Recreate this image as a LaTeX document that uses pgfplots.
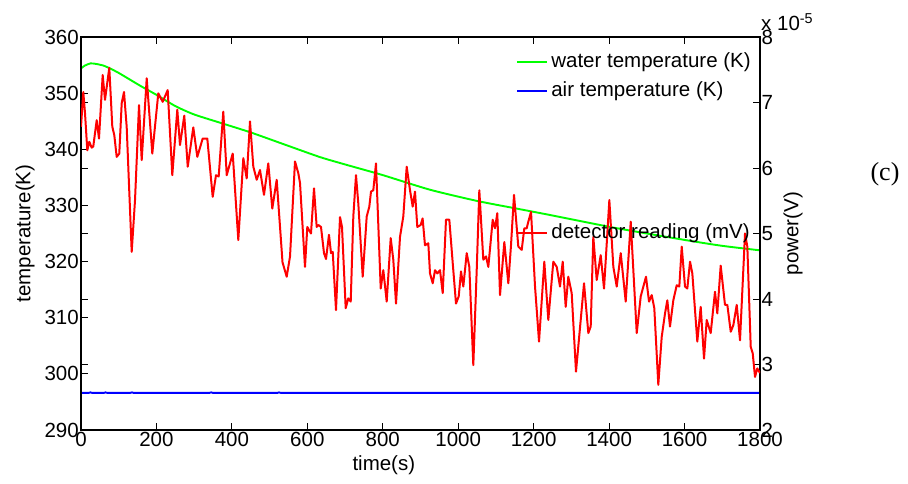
\documentclass[border=0pt]{standalone}
\usepackage{pgfplots}
\pgfplotsset{compat=1.18}
\usepackage{fontspec}
\setmainfont{Liberation Sans}
\newfontfamily\timesfont{Liberation Serif}
\definecolor{wgreen}{RGB}{0,255,0}
\definecolor{ablue}{RGB}{0,0,255}
\definecolor{dred}{RGB}{255,0,0}

\pgfplotsset{
  common/.style={
    at={(81bp,54bp)}, anchor=south west, scale only axis,
    width=679bp, height=393bp,
    xmin=0, xmax=1800,
    tick align=inside, major tick length=7bp,
    axis line style={line width=1.1bp},
    every tick/.style={line width=0.9bp, black},
    /pgf/number format/assume math mode=true,
    /pgf/number format/1000 sep={},
    legend cell align=left,
    legend image code/.code={\draw[##1] (0bp,0bp) -- (30bp,0bp);},
  },
}

\begin{document}
\begin{tikzpicture}[font=\fontsize{20.5bp}{24bp}\selectfont]
\path[use as bounding box] (0,0) rectangle (908bp,484bp);
\begin{axis}[common,
  ymin=290, ymax=360,
  xtick={0,200,...,1800}, ytick={290,300,...,360},
  xtick pos=both, ytick pos=left,
  xticklabel style={inner sep=2bp},
  yticklabel style={inner sep=2bp},
  xlabel={time(s)}, ylabel={temperature(K)},
  xlabel style={at={(rel axis cs:0.446,0)}, anchor=center, yshift=-35bp},
  ylabel style={at={(rel axis cs:0,0.5)}, anchor=center, yshift=56bp},
  legend style={draw=none, fill=none, at={(rel axis cs:0.641,0.962)}, anchor=north west,
    inner sep=0pt, row sep=10bp,
    nodes={inner sep=0pt, text height=15bp, text depth=4.5bp},
    /tikz/every odd column/.append style={column sep=3bp}},
]
\addplot[draw=wgreen, line width=1.9bp, smooth, tension=0.4] coordinates {
(0,354.4) (10,354.9) (25,355.3) (40,355.2) (60,354.9) (80,354.3) (100,353.6)
(130,352.4) (160,351.2) (200,349.7) (250,347.7) (300,346.2) (375,344.6)
(450,343.0) (550,340.6) (634,338.6) (700,337.3) (800,335.4) (925,332.8)
(1050,330.8) (1150,329.5) (1243,328.3) (1400,326.2) (1500,325.0)
(1614,323.7) (1700,322.8) (1800,322.0)};
\addlegendentry{water temperature (K)}
\addplot[draw=ablue, line width=1.9bp] coordinates {
(0,296.6) (20,296.6) (25,296.7) (30,296.6) (60,296.6) (65,296.7) (70,296.6)
(130,296.6) (135,296.7) (140,296.6) (340,296.6) (345,296.7) (350,296.6)
(520,296.6) (525,296.7) (530,296.6) (1800,296.6)};
\addlegendentry{air temperature (K)}
\end{axis}

\begin{axis}[common,
  ymin=2, ymax=8,
  ytick={2,3,...,8},
  hide x axis,
  ytick pos=both, yticklabel pos=right,
  yticklabel style={inner sep=1.5bp},
  ylabel={power(V)},
  ylabel style={at={(rel axis cs:1,0.5)}, anchor=center, yshift=-33bp},
  legend style={draw=none, fill=none, at={(rel axis cs:0.641,0.5267)}, anchor=north west,
    inner sep=0pt,
    nodes={inner sep=0pt, text height=15bp, text depth=4.5bp},
    /tikz/every odd column/.append style={column sep=3bp}},
]
\addplot[draw=dred, line width=2bp, line join=round] coordinates {
(0,6.63) (6.1,7.16) (10.6,6.84) (16.7,6.27) (22.0,6.40) (28.4,6.31) (32.6,6.33)
(41.6,6.73) (47.7,6.45) (57.5,7.42) (63.6,7.04) (75.0,7.53) (83.0,6.63) (88.3,6.50)
(94.6,6.17) (101.5,6.22) (107.9,6.99) (114.0,7.16) (121.1,6.63) (134.4,4.72)
(143.2,5.51) (153.8,6.96) (160.9,6.12) (174.2,7.37) (189.0,6.22) (204.9,7.14)
(216.6,7.01) (229.8,7.19) (242.0,5.89) (255.3,6.89) (262.4,6.35) (273.8,6.80)
(282.9,6.02) (297.7,6.62) (308.3,6.17) (322.6,6.45) (334.8,6.45) (340.1,6.12)
(349.1,5.56) (357.9,5.89) (365.0,5.87) (377.2,6.86) (386.3,5.89) (402.2,6.22)
(417.0,4.90) (430.3,6.15) (439.3,5.84) (448.0,6.71) (456.8,6.02) (465.8,5.82)
(474.5,5.97) (485.1,5.59) (496.5,6.07) (507.1,5.38) (518.8,5.82) (534.2,4.56)
(545.3,4.34) (554.1,4.65) (567.3,6.10) (576.1,5.92) (580.6,5.77) (593.8,4.49)
(599.9,5.10) (609.7,5.00) (617.7,5.69) (624.8,5.10) (629.1,5.13) (636.2,5.10)
(644.2,4.70) (649.5,4.61) (657.4,4.98) (662.8,4.70) (667.3,4.72) (676.0,3.83)
(686.6,5.25) (691.9,5.10) (701.7,3.86) (708.6,4.01) (715.0,3.96) (721.9,5.26)
(729.0,5.89) (735.1,5.46) (746.8,4.34) (757.4,5.26) (764.3,5.41) (768.8,5.64)
(774.9,5.66) (782.0,6.07) (794.5,4.16) (801.4,4.44) (810.4,3.96) (821.0,4.93)
(827.9,4.60) (835.1,3.93) (845.7,4.95) (854.4,5.26) (863.4,6.02) (872.2,5.66)
(879.3,5.41) (885.4,5.64) (891.5,5.10) (900.5,5.13) (905.6,5.23) (911.9,4.82)
(920.7,4.85) (925.2,4.39) (932.4,4.24) (938.5,4.44) (944.6,4.39) (951.7,4.44)
(958.9,4.09) (967.6,5.21) (976.4,5.21) (985.4,4.55) (994.1,3.93) (1001.3,4.04)
(1007.4,4.42) (1013.5,4.19) (1022.5,4.70) (1029.4,4.49) (1040.0,2.99) (1049.0,4.44)
(1055.9,5.66) (1066.5,4.60) (1073.7,4.65) (1079.8,4.49) (1091.4,5.21) (1097.5,5.08)
(1103.6,5.31) (1110.8,4.06) (1122.2,4.87) (1132.8,4.24) (1139.9,4.82) (1147.9,5.59)
(1159.3,4.80) (1168.3,4.75) (1175.2,5.08) (1181.6,5.08) (1185.8,5.18) (1193.0,5.33)
(1203.6,4.19) (1214.2,3.35) (1228.2,4.57) (1238.8,3.68) (1252.1,4.57) (1261.1,4.49)
(1269.8,4.19) (1277.0,4.57) (1284.9,3.88) (1291.8,4.34) (1300.8,4.09) (1312.2,2.89)
(1324.7,3.68) (1333.5,4.24) (1344.9,3.48) (1351.2,3.58) (1358.1,4.95) (1367.1,4.29)
(1377.7,4.67) (1386.5,4.16) (1400.6,5.51) (1411.2,4.49) (1420.2,4.19) (1430.8,4.70)
(1444.0,3.96) (1457.3,5.18) (1473.2,3.48) (1483.8,4.04) (1497.8,4.34) (1505.8,3.96)
(1512.9,4.06) (1519.8,3.86) (1530.4,2.69) (1539.4,3.42) (1548.2,3.78) (1554.3,3.98)
(1561.4,3.58) (1570.2,3.98) (1579.2,4.21) (1586.1,4.19) (1592.5,4.80) (1601.2,4.19)
(1607.3,4.16) (1614.5,4.57) (1620.6,4.39) (1633.8,3.35) (1642.8,3.88) (1651.6,3.09)
(1658.7,3.68) (1669.3,3.48) (1680.7,4.11) (1686.8,3.78) (1695.8,4.51) (1707.2,3.91)
(1713.4,3.91) (1722.4,3.50) (1729.3,3.60) (1738.3,3.91) (1747.0,3.37) (1760.3,5.00)
(1766.4,4.80) (1775.4,3.27) (1780.7,3.17) (1786.8,2.81) (1792.8,2.94) (1800,2.87)};
\addlegendentry{detector reading (mV)}
\end{axis}

\node[anchor=base west, inner sep=0pt] at (761bp,453bp) {x 10\textsuperscript{-5}};
\node[font=\timesfont\fontsize{26bp}{30bp}\selectfont, inner sep=0pt] at (885bp,310bp) {(c)};
\end{tikzpicture}
\end{document}
